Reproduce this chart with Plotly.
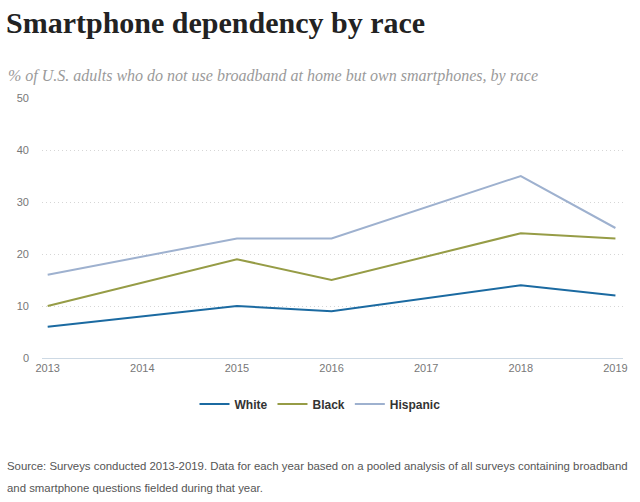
import plotly.graph_objects as go

years = [2013, 2015, 2016, 2018, 2019]
white = [6, 10, 9, 14, 12]
black = [10, 19, 15, 24, 23]
hispanic = [16, 23, 23, 35, 25]
series_names = ["White", "Black", "Hispanic"]
colors = ["#1b6aa1", "#969c46", "#9eb1cf"]
x_ticks = [2013, 2014, 2015, 2016, 2017, 2018, 2019]
y_ticks = [0, 10, 20, 30, 40, 50]

W, H = 640, 502
ml, mr, mt, mb = 42, 13, 98, 144
pw, ph = W - ml - mr, H - mt - mb

def px_x(px):
    return (px - ml) / pw

def px_y(py):
    return (H - mb - py) / ph

fig = go.Figure()
for name, vals, col in zip(series_names, [white, black, hispanic], colors):
    fig.add_trace(go.Scatter(x=years, y=vals, mode="lines", name=name,
                             line=dict(color=col, width=2)))

fig.update_layout(
    width=W, height=H,
    margin=dict(l=ml, r=mr, t=mt, b=mb),
    paper_bgcolor="white", plot_bgcolor="white",
    title=dict(text="<b>Smartphone dependency by race</b>",
               font=dict(family="Liberation Serif, DejaVu Serif, serif", size=30, color="#222"),
               x=6 / W, xanchor="left", xref="container",
               y=1 - 22 / H, yanchor="middle", yref="container"),
    showlegend=True,
    legend=dict(orientation="h", xref="container", x=0.5, xanchor="center",
                yref="container", y=1 - 404 / H, yanchor="middle",
                font=dict(family="Liberation Sans, Arial, sans-serif", size=12, color="#333", weight="bold"),
                tracegroupgap=0),
    xaxis=dict(range=[2012.94, 2019.08], tickmode="array", tickvals=x_ticks,
               ticktext=[str(t) for t in x_ticks],
               showgrid=False, zeroline=False, showline=True, linecolor="#cdd9e4", linewidth=1,
               ticks="", tickfont=dict(family="Liberation Sans, Arial, sans-serif", size=11, color="#777"),
               fixedrange=True),
    yaxis=dict(range=[0, 50], tickmode="array", tickvals=y_ticks,
               showgrid=True, gridcolor="#d6d6d6", griddash="1px,3px", gridwidth=1,
               zeroline=False, showline=False, ticks="", ticklabelstandoff=12,
               tickfont=dict(family="Liberation Sans, Arial, sans-serif", size=11, color="#777"),
               fixedrange=True),
)

fig.add_annotation(text="<i>% of U.S. adults who do not use broadband at home but own smartphones, by race</i>",
                   xref="paper", yref="paper", x=px_x(6), y=px_y(76),
                   xanchor="left", yanchor="middle", showarrow=False,
                   font=dict(family="Liberation Serif, DejaVu Serif, serif", size=16, color="#9a9a9a"))
fig.add_annotation(text="Source: Surveys conducted 2013-2019. Data for each year based on a pooled analysis of all surveys containing broadband",
                   xref="paper", yref="paper", x=px_x(5), y=px_y(466),
                   xanchor="left", yanchor="middle", showarrow=False,
                   font=dict(family="Liberation Sans, Arial, sans-serif", size=11.4, color="#555"))
fig.add_annotation(text="and smartphone questions fielded during that year.",
                   xref="paper", yref="paper", x=px_x(5), y=px_y(488),
                   xanchor="left", yanchor="middle", showarrow=False,
                   font=dict(family="Liberation Sans, Arial, sans-serif", size=11.4, color="#555"))

fig.write_html("out.html")
